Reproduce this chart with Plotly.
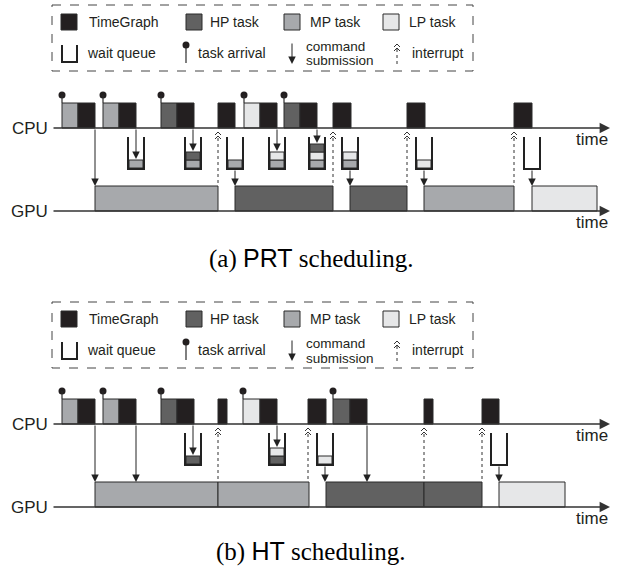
import plotly.graph_objects as go

# ---------------- data (time units along the time axis) ----------------
KINDS = ["TG", "HP", "MP", "LP"]
KIND_LABELS = ["TimeGraph", "HP task", "MP task", "LP task"]

# (a) PRT scheduling
prt_cpu_start = [10, 26, 51, 67, 109, 125, 166, 192, 208, 232, 248, 281, 355, 462]
prt_cpu_end = [26, 43, 67, 84, 125, 142, 183, 208, 225, 248, 265, 299, 373, 480]
prt_cpu_kind = ["MP", "TG", "MP", "TG", "HP", "TG", "TG", "LP", "TG", "HP", "TG", "TG", "TG", "TG"]
prt_arrivals = [10, 51, 109, 192, 232]
prt_gpu_start = [43, 183, 298, 372, 480]
prt_gpu_end = [166, 281, 355, 462, 545]
prt_gpu_kind = ["MP", "HP", "HP", "MP", "LP"]
prt_interrupts = [166, 281, 355, 462]
prt_submit = [43]
prt_queue_time = [84, 141, 183, 225, 265, 298, 372, 480]
prt_queue_contents = [["MP"], ["MP", "HP"], ["MP"], ["MP", "LP"], ["MP", "LP", "HP"], ["MP", "LP"], ["LP"], []]
prt_queue_dir = ["in", "in", "out", "in", "in", "out", "out", "out"]

# (b) HT scheduling
ht_cpu_start = [10, 26, 51, 67, 109, 125, 166, 191, 208, 256, 281, 298, 372, 430]
ht_cpu_end = [26, 43, 67, 84, 125, 142, 175, 208, 225, 274, 298, 315, 381, 447]
ht_cpu_kind = ["MP", "TG", "MP", "TG", "HP", "TG", "TG", "LP", "TG", "TG", "HP", "TG", "TG", "TG"]
ht_arrivals = [10, 51, 109, 191, 281]
ht_gpu_start = [43, 166, 274, 372, 447]
ht_gpu_end = [166, 257, 372, 430, 513]
ht_gpu_kind = ["MP", "MP", "HP", "HP", "LP"]
ht_interrupts = [166, 256, 372, 430]
ht_submit = [43, 84, 315]
ht_queue_time = [141, 225, 273, 447]
ht_queue_contents = [["HP"], ["HP", "LP"], ["LP"], []]
ht_queue_dir = ["in", "in", "out", "out"]

# ---------------- styling ----------------
W, H = 619, 567
X0 = 52          # pixel where time 0 sits
FILL = {"TG": "#231f20", "HP": "#616161", "MP": "#a7a9ac", "LP": "#e6e7e8"}
EDGE = "#2a2a2a"
TXT = "#231f20"
SANS = "Liberation Sans, Arial, sans-serif"
SERIF = "Liberation Serif, Times New Roman, serif"

fig = go.Figure()
shapes = []
ann = []


def px(x):
    return x / W


def py(y):
    return 1 - y / H


def arrow(x, y, ax, ay, ref="x", size=1.5, width=1.0, color="#222222"):
    d = dict(x=x, y=y, ax=ax, ay=ay, text="", showarrow=True, arrowhead=2,
             arrowsize=size, arrowwidth=width, arrowcolor=color, standoff=0)
    if ref == "x":
        d.update(xref="x", yref="y", axref="x", ayref="y")
    else:
        d.update(xref="paper", yref="paper")
    ann.append(d)


def label(x, y, text, size=14):
    ann.append(dict(x=px(x), y=py(y), xref="paper", yref="paper", text=text, showarrow=False,
                    xanchor="left", yanchor="middle", font=dict(family=SANS, size=size, color=TXT)))


def draw_panel(cpu_y, cpu_s, cpu_e, cpu_k, arrivals, gpu_s, gpu_e, gpu_k,
               interrupts, submits, q_t, q_c, q_d):
    gpu_y = cpu_y + 83
    bh = 25
    # axes
    for yy, lab in [(cpu_y, "CPU"), (gpu_y, "GPU")]:
        arrow(558, yy, 0, yy, size=1.6, width=1.3, color="#333333")
        ann.append(dict(x=-2, y=yy, xref="x", yref="y", text=lab, showarrow=False,
                        xanchor="right", yanchor="middle",
                        font=dict(family=SANS, size=17, color=TXT)))
        ann.append(dict(x=558, y=yy + 11, xref="x", yref="y", text="time", showarrow=False,
                        xanchor="right", yanchor="middle",
                        font=dict(family=SANS, size=17, color=TXT)))
    # cpu blocks
    for s, e, k in zip(cpu_s, cpu_e, cpu_k):
        shapes.append(dict(type="rect", xref="x", yref="y", x0=s, x1=e, y0=cpu_y - bh, y1=cpu_y,
                           fillcolor=FILL[k], line=dict(color=EDGE, width=1)))
    # gpu blocks
    for s, e, k in zip(gpu_s, gpu_e, gpu_k):
        shapes.append(dict(type="rect", xref="x", yref="y", x0=s, x1=e, y0=gpu_y - bh, y1=gpu_y,
                           fillcolor=FILL[k], line=dict(color=EDGE, width=1)))
    # arrivals
    for t in arrivals:
        shapes.append(dict(type="line", xref="x", yref="y", x0=t, x1=t, y0=cpu_y - 33, y1=cpu_y - bh,
                           line=dict(color=EDGE, width=1.2)))
    fig.add_trace(go.Scatter(x=arrivals, y=[cpu_y - 33] * len(arrivals), mode="markers",
                             marker=dict(size=7, color=FILL["TG"]), hoverinfo="skip", showlegend=False))
    # direct submissions
    for t in submits:
        arrow(t, gpu_y - bh, t, cpu_y)
    # interrupts
    for t in interrupts:
        shapes.append(dict(type="line", xref="x", yref="y", x0=t, x1=t, y0=cpu_y + 10, y1=gpu_y - bh,
                           line=dict(color="#333333", width=1, dash="dot")))
        for dy in (4, 8):
            shapes.append(dict(type="path", xref="x", yref="y",
                               path=f"M {t-3},{cpu_y+dy+3} L {t},{cpu_y+dy} L {t+3},{cpu_y+dy+3}",
                               line=dict(color="#333333", width=1)))
    # queues
    qtop, qbot = cpu_y + 9, cpu_y + 41
    for t, cont, d in zip(q_t, q_c, q_d):
        for i, k in enumerate(cont):
            shapes.append(dict(type="rect", xref="x", yref="y", x0=t - 7, x1=t + 7,
                               y0=qbot - 1 - 8 * (i + 1), y1=qbot - 1 - 8 * i,
                               fillcolor=FILL[k], line=dict(color=EDGE, width=1)))
        shapes.append(dict(type="path", xref="x", yref="y",
                           path=f"M {t-8},{qtop} L {t-8},{qbot} L {t+8},{qbot} L {t+8},{qtop}",
                           line=dict(color="#222222", width=2)))
        if d == "in":
            tip = qbot - 1 - 8 * len(cont) - 1
            arrow(t, tip, t, cpu_y)
        else:
            arrow(t, gpu_y - bh, t, qbot)


def draw_legend(top):
    shapes.append(dict(type="rect", xref="paper", yref="paper", x0=px(52), x1=px(473),
                       y0=py(top), y1=py(top + 66), line=dict(color="#444444", width=1, dash="dash")))
    r1 = top + 17
    sq_x = [61, 186, 284, 383]
    tx_x = [87, 208, 308, 407]
    for k, lab, sx, tx in zip(KINDS, KIND_LABELS, sq_x, tx_x):
        shapes.append(dict(type="rect", xref="paper", yref="paper", x0=px(sx), x1=px(sx + 16),
                           y0=py(r1 - 8), y1=py(r1 + 8), fillcolor=FILL[k],
                           line=dict(color=EDGE, width=1)))
        label(tx, r1, lab)
    r2 = top + 48
    shapes.append(dict(type="path", xref="paper", yref="paper",
                       path=f"M {px(62)},{py(r2-8)} L {px(62)},{py(r2+9)} L {px(77)},{py(r2+9)} L {px(77)},{py(r2-8)}",
                       line=dict(color="#222222", width=2)))
    label(85, r2, "wait queue")
    shapes.append(dict(type="line", xref="paper", yref="paper", x0=px(186), x1=px(186),
                       y0=py(r2 - 8), y1=py(r2 + 10), line=dict(color=EDGE, width=1.2)))
    shapes.append(dict(type="circle", xref="paper", yref="paper", x0=px(182.5), x1=px(189.5),
                       y0=py(r2 - 11.5), y1=py(r2 - 4.5), fillcolor=FILL["TG"], line=dict(width=0)))
    label(196, r2, "task arrival")
    arrow(px(292), py(r2 + 11), 0, -22, ref="paper")
    label(304, r2 - 7, "command", size=13.5)
    label(304, r2 + 8, "submission", size=13.5)
    shapes.append(dict(type="line", xref="paper", yref="paper", x0=px(397), x1=px(397),
                       y0=py(r2 - 4), y1=py(r2 + 11), line=dict(color="#333333", width=1, dash="dot")))
    for dy in (-9, -5):
        yy = r2 + dy
        shapes.append(dict(type="path", xref="paper", yref="paper",
                           path=f"M {px(394)},{py(yy+3)} L {px(397)},{py(yy)} L {px(400)},{py(yy+3)}",
                           line=dict(color="#333333", width=1)))
    label(410, r2, "interrupt")


draw_legend(5)
draw_panel(128, prt_cpu_start, prt_cpu_end, prt_cpu_kind, prt_arrivals, prt_gpu_start, prt_gpu_end,
           prt_gpu_kind, prt_interrupts, prt_submit, prt_queue_time, prt_queue_contents, prt_queue_dir)
draw_legend(302)
draw_panel(424, ht_cpu_start, ht_cpu_end, ht_cpu_kind, ht_arrivals, ht_gpu_start, ht_gpu_end,
           ht_gpu_kind, ht_interrupts, ht_submit, ht_queue_time, ht_queue_contents, ht_queue_dir)

for yc, tag, name in [(258, "(a)", "PRT"), (551, "(b)", "HT")]:
    ann.append(dict(x=px(311), y=py(yc), xref="paper", yref="paper", showarrow=False,
                    xanchor="center", yanchor="middle",
                    text=f'{tag} <span style="font-family:{SANS}">{name}</span> scheduling.',
                    font=dict(family=SERIF, size=25, color="#000000")))

fig.update_layout(
    width=W, height=H, margin=dict(l=0, r=0, t=0, b=0),
    paper_bgcolor="white", plot_bgcolor="white",
    xaxis=dict(range=[-X0, W - X0], visible=False, fixedrange=True),
    yaxis=dict(range=[H, 0], visible=False, fixedrange=True),
    shapes=shapes, annotations=ann, showlegend=False,
)
fig.write_html("out.html", config={"displayModeBar": False},
               post_script="document.body.style.margin='0';document.body.style.overflow='hidden';")
